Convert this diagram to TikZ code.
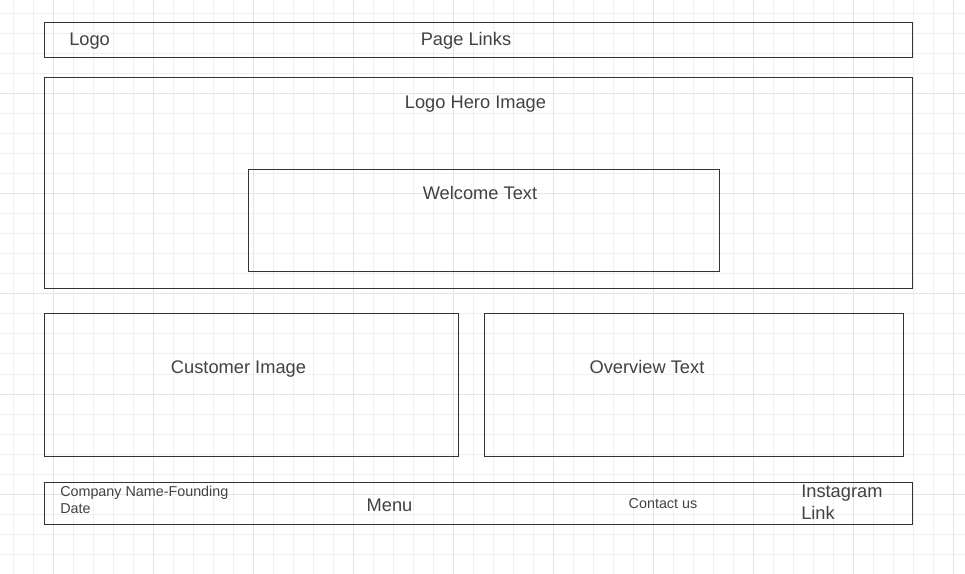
\documentclass[tikz,border=0pt]{standalone}
\usepackage{fontspec}
\setmainfont{Liberation Sans}
\usetikzlibrary{fit}
\definecolor{gridminor}{HTML}{F0F0F0}
\definecolor{gridmajor}{HTML}{E4E4E4}
\definecolor{boxline}{HTML}{333333}
\definecolor{txt}{HTML}{424242}
\begin{document}
\begin{tikzpicture}[x=0.75pt,y=-0.75pt,
  box/.style={draw=boxline,line width=0.8pt,inner sep=0pt,fill=none},
  big/.style={font=\fontsize{13.7}{16.3}\selectfont,text=txt,inner sep=0pt},
  small/.style={font=\fontsize{10.75}{12.5}\selectfont,text=txt,inner sep=0pt}]
\useasboundingbox (0,0) rectangle (965,574);
\fill[white] (0,0) rectangle (965,574);
% background grid: fine lines every 20px, heavier every 100px
\foreach \gx in {13.3,33.3,...,965}
  \draw[gridminor,line width=0.75pt] (\gx,0) -- (\gx,574);
\foreach \gy in {14,34,...,574}
  \draw[gridminor,line width=0.75pt] (0,\gy) -- (965,\gy);
\foreach \gx in {53.3,153.3,...,965}
  \draw[gridmajor,line width=0.75pt] (\gx,0) -- (\gx,574);
\foreach \gy in {94,194,...,574}
  \draw[gridmajor,line width=0.75pt] (0,\gy) -- (965,\gy);

% header
\node[box,fit={(44.5,22.5) (912.5,57.5)}] (header) {};
\node[big,anchor=base west] (logo) at (69,45.5) {Logo};
\node[big,anchor=base] (links) at (466,45.5) {Page Links};

% hero
\node[box,fit={(44.5,77.5) (912.5,288.5)}] (hero) {};
\node[big,anchor=base] (herotxt) at (475.5,108.5) {Logo Hero Image};
\node[box,fit={(248.5,169.5) (719.5,271.5)}] (welcome) {};
\node[big,anchor=base] (welcometxt) at (480,199.5) {Welcome Text};

% content blocks
\node[box,fit={(44.5,313.5) (458.5,456.5)}] (customer) {};
\node[big,anchor=base] (customertxt) at (238.5,373.5) {Customer Image};
\node[box,fit={(484.5,313.5) (903.5,456.5)}] (overview) {};
\node[big,anchor=base] (overviewtxt) at (647,373.5) {Overview Text};

% footer
\node[box,fit={(44.5,482.5) (912.5,524.5)}] (footer) {};
\node[small,anchor=north west,align=left] (company) at (60,486) {Company Name-Founding\\Date};
\node[big,anchor=base] (menu) at (389.5,511.5) {Menu};
\node[small,anchor=base] (contact) at (663,508.5) {Contact us};
\node[big,anchor=north west,align=left] (insta) at (801,484.8) {Instagram\\Link};
\end{tikzpicture}
\end{document}
